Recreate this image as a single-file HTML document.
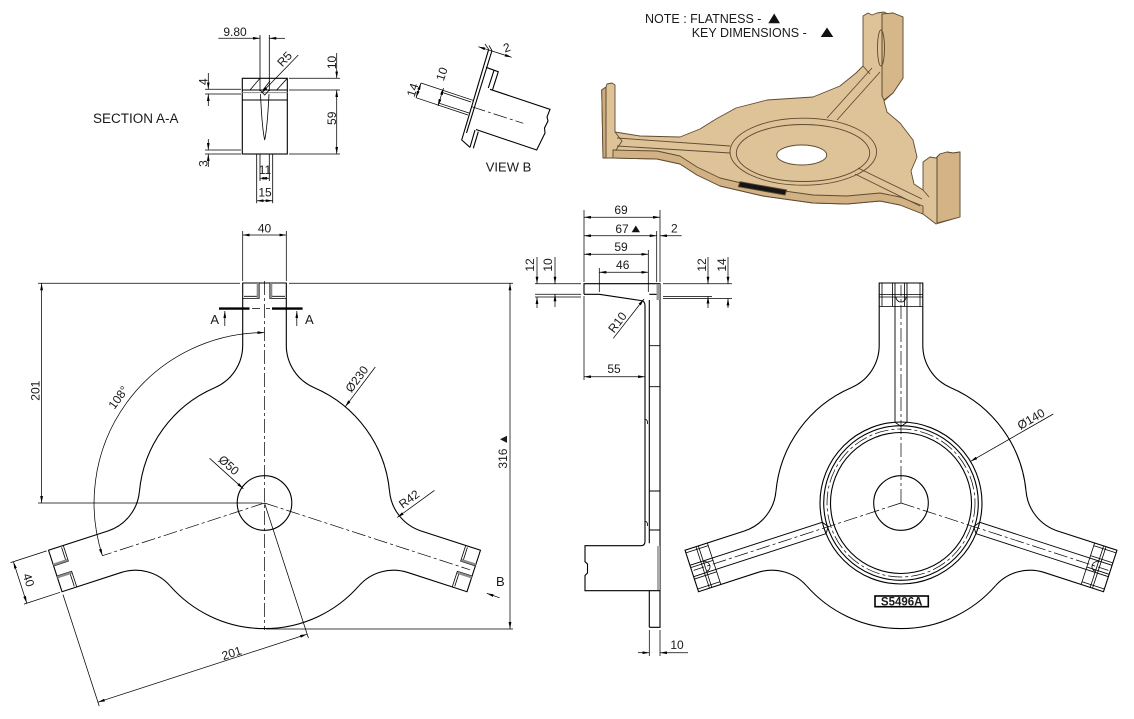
<!DOCTYPE html>
<html><head><meta charset="utf-8"><title>drawing</title>
<style>
html,body{margin:0;padding:0;background:#fff;width:1134px;height:719px;overflow:hidden}
svg{display:block}
text{font-family:"Liberation Sans","DejaVu Sans",sans-serif;fill:#1a1a1a;font-size:12px}
.t{text-anchor:middle}
.o{fill:none;stroke:#000;stroke-width:1.1}
.d{fill:none;stroke:#000;stroke-width:0.75}
.c{fill:none;stroke:#000;stroke-width:0.7;stroke-dasharray:14 3 3 3}
.dd{marker-start:url(#ar);marker-end:url(#ar)}
.de{marker-end:url(#ar)}
</style></head><body>
<svg width="1134" height="719" viewBox="0 0 1134 719" xmlns="http://www.w3.org/2000/svg">
<defs>
<marker id="ar" viewBox="0 0 10 4" refX="10" refY="2" markerWidth="7" markerHeight="2.8" markerUnits="userSpaceOnUse" orient="auto-start-reverse"><path d="M0,0L10,2L0,4z" fill="#000"/></marker>
</defs>
<rect width="1134" height="719" fill="#fff"/>

<!-- ================= SECTION A-A ================= -->
<g class="o">
<rect x="242.3" y="78.3" width="45" height="75.7"/>
<path d="M242.3,90H287.3M242.3,100H287.3"/>
<path d="M242.3,92.6H287.3" stroke="#999"/>
<path d="M260,35V91M269.3,35V91" stroke-width="0.8"/>
<path d="M260.5,94Q262,128 264.7,140Q267.3,128 269,94" stroke-width="0.8"/>
<path d="M260,90L264.7,95L269.3,90" stroke-width="0.8"/>
<path d="M250,90L260,78.3M276.7,90L287.3,78.3M263,90L270,81" stroke-width="0.8"/>
<path d="M256.7,154V203.3M272.7,154V203.3M260,154V181M269.3,154V181" stroke-width="0.8"/>
</g>
<g class="d">
<line class="de" x1="218.3" y1="38.3" x2="260" y2="38.3"/>
<line class="de" x1="285" y1="38.3" x2="269.3" y2="38.3"/>
<line class="de" x1="298.3" y1="55" x2="261.5" y2="93"/>
<path d="M289,78.3H340M289,90H340M289,154H340"/>
<line class="de" x1="336.7" y1="53" x2="336.7" y2="78.3"/>
<line class="dd" x1="336.7" y1="90" x2="336.7" y2="154"/>
<path d="M205,89.3H241M205,94H241M205,150H241M205,154H241"/>
<line class="de" x1="208.3" y1="73" x2="208.3" y2="89.3"/>
<line class="de" x1="208.3" y1="106" x2="208.3" y2="94"/>
<line class="de" x1="208.3" y1="139" x2="208.3" y2="150"/>
<line class="de" x1="208.3" y1="167" x2="208.3" y2="154"/>
<line class="dd" x1="260" y1="178.3" x2="269.3" y2="178.3"/>
<line class="dd" x1="256.7" y1="200.7" x2="272.7" y2="200.7"/>
</g>
<text x="93" y="123" style="font-size:13.5px">SECTION A-A</text>
<text class="t" x="235" y="31.7" dy="4.2">9.80</text>
<text class="t" transform="translate(284.5,59) rotate(-47)" dy="4.2">R5</text>
<text class="t" transform="translate(332,62.5) rotate(-90)" dy="4.2">10</text>
<text class="t" transform="translate(332,118.3) rotate(-90)" dy="4.2">59</text>
<text class="t" transform="translate(203.5,81.7) rotate(-90)" dy="4.2">4</text>
<text class="t" transform="translate(203.5,163.5) rotate(-90)" dy="4.2">3</text>
<text class="t" x="265" y="170" dy="4.2">11</text>
<text class="t" x="265" y="192.5" dy="4.2">15</text>

<!-- ================= VIEW B ================= -->
<g class="o" stroke-width="1">
<path d="M490,89.3L550,109.3L547,117L548,121L544.5,128L545,133L536.7,150L476,129.5"/>
<path d="M488.7,49.3L461.7,140L470,147.3M492,50.5L466.5,133"/>
<path d="M486,67.3L498.3,71.7L492.5,89.8M494,70.3L488.3,88"/>
<path d="M475,130L470,147.3M478.3,131.7L473.3,148.3"/>
</g>
<g class="d">
<path d="M421,83L473,100.3M416,97.7L468,115M441,92L471,102M438,102.8L469,113"/>
<line class="dd" x1="421" y1="83" x2="416" y2="97.7"/>
<line class="dd" x1="443.5" y1="88" x2="438" y2="106"/>
<path d="M488.7,49.3L485,44M492,50.5L489,45.5"/>
<line class="dd" x1="478.3" y1="46.7" x2="511.7" y2="57.3"/>
</g>
<line class="c" x1="471.7" y1="106.7" x2="523.3" y2="123.3"/>
<text class="t" transform="translate(412.5,90) rotate(-72)" dy="4.2">14</text>
<text class="t" transform="translate(441.7,74) rotate(-72)" dy="4.2">10</text>
<text class="t" transform="translate(506.7,47.5) rotate(-18)" dy="4.2">2</text>
<text class="t" x="508.5" y="167" dy="4.5" style="font-size:13px">VIEW B</text>

<!-- ================= NOTE ================= -->
<text x="645" y="23" style="font-size:12.5px">NOTE : FLATNESS -</text>
<polygon points="768.3,23.3 780,23.3 774.2,13.5" fill="#111"/>
<text x="691.7" y="37" style="font-size:12.5px">KEY DIMENSIONS  -</text>
<polygon points="820.7,37 833.3,37 827,27.5" fill="#111"/>

<!-- ================= 3D VIEW ================= -->
<g stroke="#5e4b32" stroke-width="0.9" stroke-linejoin="round">
<path fill="#dfc398" d="M601.7,90L606,87L607,84L612,83L615,85L615,132L640,136L680,137L700,129L716,119L736,108L767,100L813,97L840,86L856,73L863,66L863,16L868,13L872,15L877,13L884,12L888,14L893,13L903,17L903,78L893,93L884,101L887,112L900,123L913,140L917,157L911,171L914,184L923,190L923,162L930,157L936,158L940,154L947,152L953,153L960,152L960,217L936,224L923,214L900,205L880,201L847,204L813,203L763,196L720,186L697,175L680,164L657,159L613,158L603,158Z"/>
<path fill="#d2b284" d="M613,150L657,151L680,156L697,167L720,178L763,188L813,195L847,196L880,193L900,197L923,206L923,214L900,205L880,201L847,204L813,203L763,196L720,186L697,175L680,164L657,159L613,158Z"/>
<path fill="#cdab7b" d="M601.7,90L606,87L606,158L603,158Z"/>
<path fill="#d6b789" d="M882,14L893,13L903,17L903,78L893,93L884,100L882,96Z"/>
<path fill="#d4b486" d="M937,157L940,154L947,152L953,153L960,152L960,217L937,223Z"/>
<path fill="none" d="M606,88V157M615,132L622,141L616,150M882,14V96M863,66L870,74M937,157V223M923,190L929,197"/>
<ellipse cx="881" cy="48" rx="3.5" ry="18" fill="none"/>
<ellipse cx="803.3" cy="151.7" rx="73.3" ry="33.5" fill="none"/>
<ellipse cx="803" cy="153" rx="66.7" ry="28.5" fill="none"/>
<ellipse cx="801.7" cy="155" rx="25" ry="10" fill="#fff"/>
<path fill="none" d="M617,138L730,146M617,146L730,153M827,118L872,68M837,120L880,72M858,168L922,199M855,174L920,206"/>
<polygon points="740,181.7 786.7,190 785,195 738.3,186.7" fill="#151515"/>
</g>

<!-- ================= LEFT MAIN VIEW ================= -->
<g class="o">
<g transform="translate(264.5,503)">
 <g id="armL">
  <path d="M49.58,-115.42A46,46 0 0 1 21.8,-157.6L21.8,-220L-21.8,-220L-21.8,-157.6A46,46 0 0 1 -49.58,-115.42"/>
  <path d="M-21.8,-204.5H-5.3V-220M5.3,-220V-204.5H21.8M-20.5,-206.7H-5.3M5.3,-206.7H20.5" stroke-width="0.8"/>
  <path d="M-6.6,-220V-204.8M6.6,-220V-204.8" stroke="#8a8a8a" stroke-width="2.4"/>
 </g>
 <use href="#armL" transform="rotate(108)"/>
 <use href="#armL" transform="rotate(-108)"/>
 <path d="M49.57,-115.4A125.6,125.6 0 0 1 125.07,-11.49M94.43,82.81A125.6,125.6 0 0 1 -94.43,82.81M-125.07,-11.49A125.6,125.6 0 0 1 -49.57,-115.4"/>
 <circle r="27.3"/>
</g>
</g>
<g class="c">
<line x1="264.5" y1="281" x2="264.5" y2="630"/>
<line x1="264.5" y1="503" x2="102.4" y2="555.7"/>
<line x1="264.5" y1="503" x2="470" y2="569.8"/>
</g>
<g class="d">
<line x1="242.7" y1="231" x2="242.7" y2="281"/>
<line x1="286.3" y1="231" x2="286.3" y2="281"/>
<line class="dd" x1="242.7" y1="235" x2="286.3" y2="235"/>
<line x1="38" y1="283.3" x2="240" y2="283.3"/>
<line x1="38" y1="503" x2="262" y2="503"/>
<line class="dd" x1="41.6" y1="283.3" x2="41.6" y2="503"/>
<line x1="289" y1="283.3" x2="513" y2="283.3"/>
<line x1="266" y1="629" x2="513" y2="629"/>
<line class="dd" x1="510" y1="283.3" x2="510" y2="629"/>
<path class="dd" d="M264.5,332.6A170.4,170.4 0 0 0 102.4,555.7"/>
<line class="de" x1="375.3" y1="367" x2="345.2" y2="406.8"/>
<line class="de" x1="209.6" y1="458.3" x2="243.4" y2="488.8"/>
<line class="de" x1="434.4" y1="490.4" x2="397.2" y2="517.5"/>
<line x1="264.5" y1="503" x2="308.4" y2="638"/>
<line x1="63" y1="594.6" x2="99.2" y2="706"/>
<line class="dd" x1="307.1" y1="634.2" x2="97.9" y2="702.2"/>
<line x1="46.7" y1="550.9" x2="10.5" y2="562.6"/>
<line x1="60.1" y1="592.3" x2="24" y2="604.1"/>
<line class="dd" x1="13.4" y1="561.7" x2="26.8" y2="603.1"/>
<line class="de" x1="499.7" y1="597.8" x2="486.8" y2="593.4"/>
<line class="de" x1="224.8" y1="326" x2="224.8" y2="311"/>
<line class="de" x1="296.8" y1="326" x2="296.8" y2="311"/>
</g>
<path d="M219,308.6H249.5M272,308.6H302.6" stroke="#000" stroke-width="2.4"/>
<path d="M252,308.6H260M266,308.6H270" stroke="#000" stroke-width="0.7"/>
<text class="t" x="264.5" y="228.5" dy="4.2">40</text>
<text class="t" transform="translate(35.5,390.7) rotate(-90)" dy="4.2">201</text>
<text class="t" transform="translate(503,451) rotate(-90)" dy="4.2">316 ▲</text>
<text class="t" transform="translate(118.3,397.5) rotate(-54)" dy="4.2">108°</text>
<text class="t" transform="translate(356.7,379) rotate(-53)" dy="4.2">Ø230</text>
<text class="t" transform="translate(228.9,465.1) rotate(42)" dy="4.2">Ø50</text>
<text class="t" transform="translate(409,499) rotate(-36)" dy="4.2">R42</text>
<text class="t" transform="translate(231.6,653) rotate(-18)" dy="4.2">201</text>
<text class="t" transform="translate(28.7,580) rotate(72)" dy="4.2">40</text>
<text class="t" x="214.7" y="319.7" dy="4.5" style="font-size:13px">A</text>
<text class="t" x="309.3" y="319.7" dy="4.5" style="font-size:13px">A</text>
<text class="t" x="500.3" y="581.6" dy="4.5" style="font-size:13px">B</text>

<!-- ================= MIDDLE SIDE VIEW ================= -->
<g class="o">
<path d="M584,294.3V283.7H660V627.3H649.3"/>
<path d="M660,590.7H585V575.5L587.5,573V564L585,561.7V545.7H641Q645,545.7 645,541.5"/>
<path d="M645,541.5V306Q645,300.5 640.5,300.5L599.3,294.3H584"/>
<path d="M649.3,300V543.3M649.3,590.7V627.3M649.3,294.3H660"/>
<path d="M649.3,345.7H660M649.3,386.7H660M649.3,491H660M649.3,530H660" stroke-width="0.9"/>
<path d="M645,419Q648,420 647.5,424M645,521Q648,522 647.5,526" stroke-width="0.8"/>
</g>
<rect x="656.5" y="284" width="3.5" height="16" fill="#999"/>
<rect x="657" y="546" width="3" height="44" fill="#aaa"/>
<g class="d">
<line x1="584" y1="210" x2="584" y2="282"/>
<line x1="660" y1="210" x2="660" y2="282"/>
<line x1="656.7" y1="231" x2="656.7" y2="282"/>
<line x1="648.3" y1="250" x2="648.3" y2="292"/>
<line x1="599.3" y1="268" x2="599.3" y2="292"/>
<line x1="584" y1="296" x2="584" y2="380"/>
<line class="dd" x1="584" y1="217.3" x2="660" y2="217.3"/>
<line class="dd" x1="584" y1="235.7" x2="656.7" y2="235.7"/>
<line class="de" x1="681.7" y1="235.7" x2="660" y2="235.7"/>
<line class="dd" x1="584" y1="254.3" x2="648.3" y2="254.3"/>
<line class="dd" x1="599.3" y1="272.3" x2="648.3" y2="272.3"/>
<line class="dd" x1="584" y1="376.7" x2="645" y2="376.7"/>
<line class="de" x1="613.3" y1="338.3" x2="644" y2="299"/>
<path d="M535,283.7H581M535,294.3H581M535,297H581"/>
<line class="de" x1="537" y1="257" x2="537" y2="283.7"/>
<line class="de" x1="537" y1="308" x2="537" y2="297"/>
<line class="de" x1="555" y1="257" x2="555" y2="283.7"/>
<line class="de" x1="555" y1="307" x2="555" y2="294.3"/>
<path d="M663,283.7H732M663,296.5H712M663,298.5H732"/>
<line class="de" x1="708" y1="257" x2="708" y2="283.7"/>
<line class="de" x1="708" y1="308" x2="708" y2="296.5"/>
<line class="de" x1="728" y1="257" x2="728" y2="283.7"/>
<line class="de" x1="728" y1="308" x2="728" y2="298.5"/>
<path d="M649.3,630V656M660,630V656"/>
<line class="de" x1="638" y1="652.7" x2="649.3" y2="652.7"/>
<line class="de" x1="688" y1="652.7" x2="660" y2="652.7"/>
</g>
<text class="t" x="621" y="210" dy="4.2">69</text>
<text class="t" x="622" y="229" dy="4.2">67</text>
<polygon points="631.7,232.3 640,232.3 635.8,225.5" fill="#111"/>
<text class="t" x="674.3" y="228.5" dy="4.2">2</text>
<text class="t" x="621" y="247" dy="4.2">59</text>
<text class="t" x="622.7" y="265" dy="4.2">46</text>
<text class="t" transform="translate(530,265) rotate(-90)" dy="4.2">12</text>
<text class="t" transform="translate(548,265) rotate(-90)" dy="4.2">10</text>
<text class="t" transform="translate(701.7,265) rotate(-90)" dy="4.2">12</text>
<text class="t" transform="translate(721.7,265) rotate(-90)" dy="4.2">14</text>
<text class="t" transform="translate(617.3,322.3) rotate(-52.5)" dy="4.2">R10</text>
<text class="t" x="614" y="369" dy="4.2">55</text>
<text class="t" x="677" y="645" dy="4.2">10</text>

<!-- ================= RIGHT VIEW ================= -->
<g class="o">
<g transform="translate(901,503)">
 <g id="armR">
  <path d="M49.58,-115.42A46,46 0 0 1 21.8,-157.6L21.8,-220L-21.8,-220L-21.8,-157.6A46,46 0 0 1 -49.58,-115.42"/>
  <path d="M-21.8,-208.5H21.8M-21.8,-206H21.8M-21.8,-196.5H21.8M-19,-220V-196.5M19,-220V-196.5M-8.5,-220V-196.5M3.5,-220V-196.5" stroke-width="0.8"/>
  <path d="M-6,-220V-80.8L0,-76.5L6,-80.8V-220" stroke-width="0.9"/>
  <path d="M-5,-206A5,5 0 0 0 5,-206" stroke-width="0.8"/>
  <line x1="0" y1="0" x2="0" y2="-218" stroke-width="0.7" stroke-dasharray="14 3 3 3"/>
 </g>
 <use href="#armR" transform="rotate(108)"/>
 <use href="#armR" transform="rotate(-108)"/>
 <path d="M49.57,-115.4A125.6,125.6 0 0 1 125.07,-11.49M94.43,82.81A125.6,125.6 0 0 1 -94.43,82.81M-125.07,-11.49A125.6,125.6 0 0 1 -49.57,-115.4"/>
 <circle r="27.3"/>
 <circle r="81"/>
 <circle r="77.3"/>
 <circle r="70.5"/>
 <circle r="74" stroke-width="0.7" stroke-dasharray="14 3 3 3"/>
</g>
</g>
<g class="d">
<line class="de" x1="1053.3" y1="414" x2="970.5" y2="461.4"/>
</g>
<text class="t" transform="translate(1031,419) rotate(-30)" dy="4.2">Ø140</text>
<rect x="875" y="596" width="53.3" height="10.7" fill="#fff" stroke="#000" stroke-width="1.6"/>
<text class="t" x="901.7" y="601.4" dy="4.3" style="font-size:11.5px;font-weight:bold">S5496A</text>
</svg>
</body></html>
